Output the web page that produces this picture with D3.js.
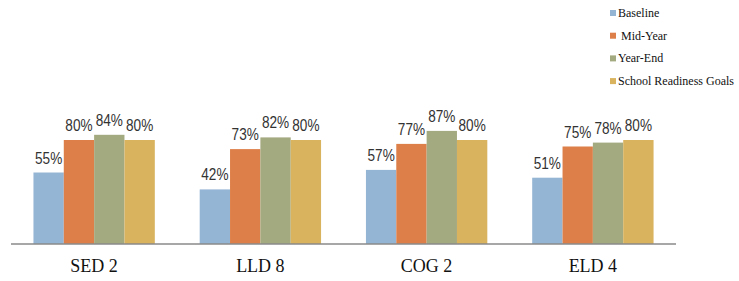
<!DOCTYPE html>
<html>
<head>
<meta charset="utf-8">
<script src="https://cdn.jsdelivr.net/npm/d3@7"></script>
<style>
  body { margin: 0; background: #fff; }
  .value { font-family: "Liberation Sans", Arial, sans-serif; font-size: 16px; fill: #333; }
  .cat { font-family: "Liberation Serif", "DejaVu Serif", serif; font-size: 18px; fill: #111; }
  .legend-label { font-family: "Liberation Serif", "DejaVu Serif", serif; font-size: 12px; fill: #111; }
</style>
</head>
<body>
<svg id="chart" width="739" height="281"></svg>
<script>
// data
const categories = ["SED 2", "LLD 8", "COG 2", "ELD 4"];
const seriesNames = ["Baseline", " Mid-Year", "Year-End", "School Readiness Goals"];
const baseline = [55, 42, 57, 51];
const midYear = [80, 73, 77, 75];
const yearEnd = [84, 82, 87, 78];
const goals = [80, 80, 80, 80];
const colors = ["#95b5d4", "#dd7f48", "#a4aa80", "#d9b35d"];

const series = [baseline, midYear, yearEnd, goals];

const svg = d3.select("#chart");
const margin = {left: 11, right: 63, top: 114, bottom: 37};
const width = 739 - margin.left - margin.right;
const height = 281 - margin.top - margin.bottom;

const x0 = d3.scaleBand().domain(categories).range([0, width]).paddingInner(0.27).paddingOuter(0.135);
const x1 = d3.scaleBand().domain(d3.range(series.length)).range([0, x0.bandwidth()]);
const y = d3.scaleLinear().domain([0, 100]).range([height, 0]);

const g = svg.append("g").attr("transform", "translate(" + margin.left + "," + margin.top + ")");

const groups = g.selectAll(".group")
    .data(categories)
    .enter().append("g")
    .attr("class", "group")
    .attr("transform", d => "translate(" + x0(d) + ",0)");

groups.each(function(cat, ci) {
    const grp = d3.select(this);
    const vals = series.map((s, si) => ({si: si, v: s[ci]}));
    grp.selectAll("rect")
        .data(vals)
        .enter().append("rect")
        .attr("x", d => x1(d.si))
        .attr("y", d => y(d.v))
        .attr("width", x1.bandwidth())
        .attr("height", d => height - y(d.v))
        .attr("fill", d => colors[d.si]);
    grp.selectAll("text.value")
        .data(vals)
        .enter().append("text")
        .attr("class", "value")
        .attr("text-anchor", "middle")
        .attr("transform", d => "translate(" + (x1(d.si) + x1.bandwidth() / 2) + "," + (y(d.v) - 9) + ") scale(0.85,1)")
        .text(d => d.v + "%");
});

// axis line
g.append("line")
    .attr("x1", 0).attr("x2", width)
    .attr("y1", height).attr("y2", height)
    .attr("stroke", "#8a8a8a")
    .attr("stroke-width", 1.5);

// category labels
g.selectAll(".cat")
    .data(categories)
    .enter().append("text")
    .attr("class", "cat")
    .attr("text-anchor", "middle")
    .attr("x", d => x0(d) + x0.bandwidth() / 2)
    .attr("y", height + 28)
    .text(d => d);

// legend
const legend = svg.append("g").attr("class", "legend").attr("transform", "translate(610,13)");
const items = legend.selectAll("g")
    .data(seriesNames)
    .enter().append("g")
    .attr("transform", (d, i) => "translate(0," + (i * 22.7) + ")");
items.append("rect")
    .attr("x", 0).attr("y", -3)
    .attr("width", 6).attr("height", 6)
    .attr("fill", (d, i) => colors[i]);
items.append("text")
    .attr("class", "legend-label")
    .attr("x", 8).attr("y", 4)
    .attr("xml:space", "preserve")
    .style("white-space", "pre")
    .text(d => d);
</script>
</body>
</html>
